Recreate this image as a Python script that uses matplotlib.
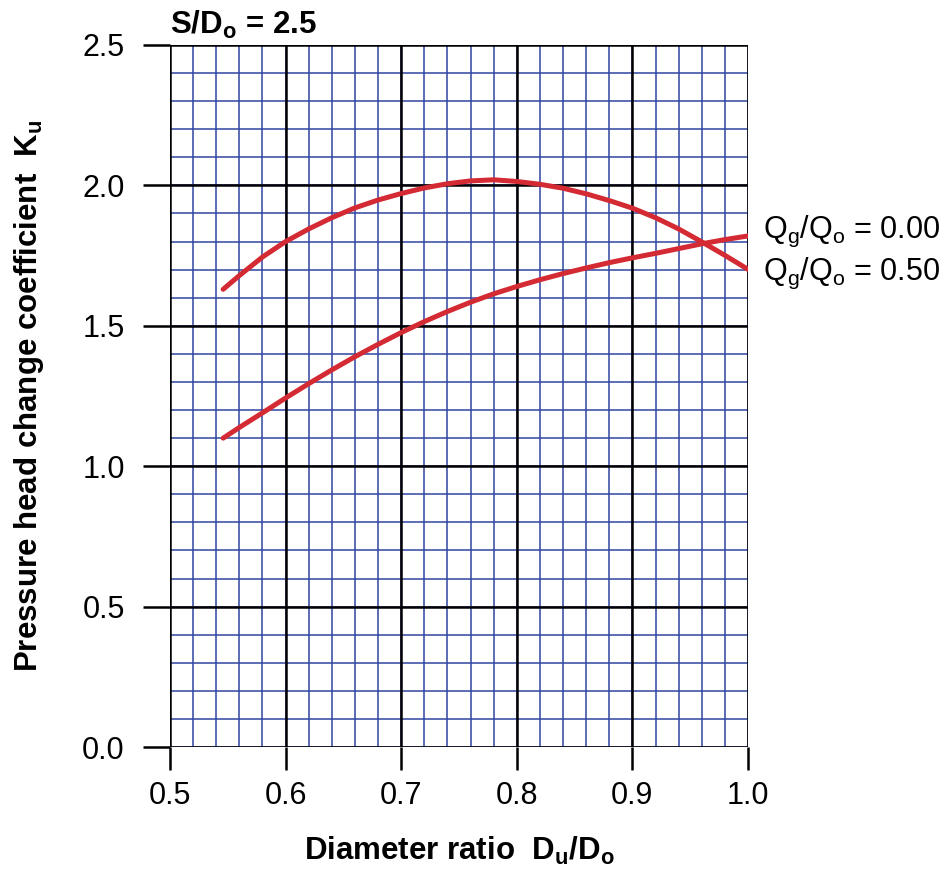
import matplotlib
matplotlib.use("Agg")
import matplotlib.pyplot as plt
import numpy as np

plt.rcParams['font.family'] = ['Liberation Sans', 'DejaVu Sans']
plt.rcParams['mathtext.fontset'] = 'custom'
plt.rcParams['mathtext.rm'] = 'Liberation Sans'
plt.rcParams['mathtext.bf'] = 'Liberation Sans:bold'

# curve: Qg/Qo = 0.50 (arched one)
x_a = [0.546, 0.56, 0.58, 0.60, 0.62, 0.64, 0.66, 0.68, 0.70, 0.72, 0.74, 0.76, 0.78,
       0.80, 0.82, 0.84, 0.86, 0.88, 0.90, 0.92, 0.94, 0.96, 0.98, 1.00]
y_a = [1.630, 1.679, 1.745, 1.800, 1.845, 1.885, 1.920, 1.948, 1.971, 1.991, 2.006, 2.016, 2.020,
       2.014, 2.004, 1.990, 1.970, 1.946, 1.919, 1.885, 1.845, 1.799, 1.751, 1.701]
# Qg/Qo = 0.00 (rising one)
x_b = [0.546, 0.56, 0.58, 0.60, 0.62, 0.64, 0.66, 0.68, 0.70, 0.72, 0.74, 0.76, 0.78,
       0.80, 0.82, 0.84, 0.86, 0.88, 0.90, 0.92, 0.94, 0.96, 0.98, 1.00]
y_b = [1.100, 1.138, 1.190, 1.243, 1.294, 1.343, 1.390, 1.434, 1.476, 1.515, 1.551, 1.584, 1.614,
       1.640, 1.664, 1.686, 1.706, 1.725, 1.742, 1.758, 1.775, 1.792, 1.807, 1.820]
labels = ['$\\mathrm{Q_g/Q_o}$ = 0.00', '$\\mathrm{Q_g/Q_o}$ = 0.50']

fig = plt.figure(figsize=(9.46, 8.72), dpi=100)
ax = fig.add_axes([0.1797, 0.1433, 0.6110, 0.8051])

blue = '#2f45a0'
for v in np.arange(0.5, 1.001, 0.02):
    ax.axvline(v, color=blue, lw=1.1, zorder=1)
for v in np.arange(0.0, 2.501, 0.1):
    ax.axhline(v, color=blue, lw=1.1, zorder=1)
for v in np.arange(0.5, 1.001, 0.1):
    ax.axvline(v, color='black', lw=1.8, zorder=2)
for v in np.arange(0.0, 2.501, 0.5):
    ax.axhline(v, color='black', lw=1.8, zorder=2)

red = '#d42a33'
ax.plot(x_a, y_a, color=red, lw=3.6, solid_capstyle='round', solid_joinstyle='round', zorder=3)
ax.plot(x_b, y_b, color=red, lw=3.6, solid_capstyle='round', solid_joinstyle='round', zorder=3)

ax.set_xlim(0.5, 1.0)
ax.set_ylim(0.0, 2.5)
for s in ax.spines.values():
    s.set_visible(False)
ax.set_xticks([0.5, 0.6, 0.7, 0.8, 0.9, 1.0])
ax.set_xticklabels(['0.5', '0.6', '0.7', '0.8', '0.9', '1.0'])
ax.set_yticks([0.0, 0.5, 1.0, 1.5, 2.0, 2.5])
ax.set_yticklabels(['0.0', '0.5', '1.0', '1.5', '2.0', '2.5'])
ax.tick_params(axis='x', length=16.5, width=1.8, pad=8, labelsize=22, direction='out')
ax.tick_params(axis='y', length=19.5, width=1.8, pad=13, labelsize=22, direction='out')

ax.set_xlabel('Diameter ratio  $\\mathbf{D_u/D_o}$', fontsize=22.5, fontweight='bold', labelpad=17)
ax.set_ylabel('Pressure head change coefficient  $\\mathbf{K_u}$', fontsize=22.5, fontweight='bold', labelpad=26)
ax.text(0.0, 1.006, 'S/$\\mathbf{D_o}$ = 2.5', transform=ax.transAxes, fontsize=22.5,
        fontweight='bold', ha='left', va='bottom')

ax.annotate(labels[0], xy=(1.0, y_b[-1]), xytext=(11, 3), textcoords='offset points',
            fontsize=22, va='center', ha='left', annotation_clip=False)
ax.annotate(labels[1], xy=(1.0, y_a[-1]), xytext=(11, -3), textcoords='offset points',
            fontsize=22, va='center', ha='left', annotation_clip=False)

fig.savefig('out.png', dpi=100)
